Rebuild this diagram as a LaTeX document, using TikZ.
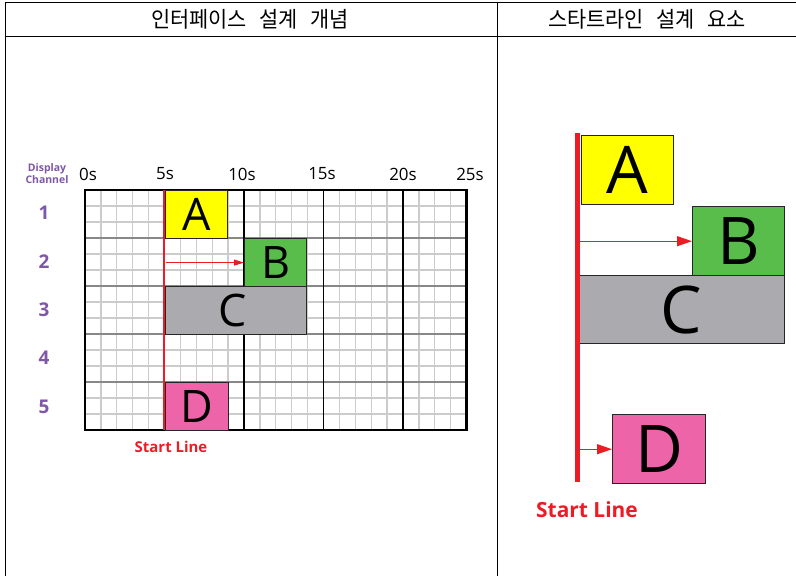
\documentclass[tikz,border=0pt]{standalone}
\usepackage{fontspec}
\setmainfont{Open Sans}
\newfontfamily\krfont{Noto Sans CJK KR}
\usetikzlibrary{arrows.meta}
\definecolor{redline}{HTML}{ED1C24}
\definecolor{boxA}{HTML}{FFFF00}
\definecolor{boxB}{HTML}{58BD4B}
\definecolor{boxC}{HTML}{ABABAF}
\definecolor{boxD}{HTML}{EE64A9}
\definecolor{purp}{HTML}{7E57A6}
\definecolor{minorgrid}{HTML}{CCCCCC}
\definecolor{chline}{HTML}{888888}
\begin{document}
\begin{tikzpicture}[x=1bp,y=-1bp,
  tableline/.style={line width=0.9bp,black},
  hdr/.style={font=\krfont\fontsize{22}{22}\selectfont,inner sep=0,xscale=0.95},
  axislbl/.style={font=\fontsize{17}{17}\selectfont,inner sep=0},
  chlbl/.style={font=\bfseries\fontsize{19}{19}\selectfont,text=purp,inner sep=0},
  smallbox/.style={draw=black!85,line width=1.2bp,inner sep=0,anchor=north west,
     minimum height=48bp,font=\fontsize{45}{45}\selectfont},
  bigbox/.style={draw=black!85,line width=1.4bp,inner sep=0,anchor=north west,
     font=\fontsize{66}{66}\selectfont},
  startlbl/.style={text=redline,font=\bfseries\fontsize{15}{15}\selectfont,inner sep=0},
  smallarrow/.style={redline,line width=0.9bp,-{Triangle[length=10bp,width=6bp]}},
  bigarrow/.style={redline,line width=1.2bp,-{Triangle[length=15bp,width=10bp]}}
]
\useasboundingbox (0,0) rectangle (796,576);
% table frame
\draw[tableline] (5,2) -- (796,2);
\draw[tableline] (5,36) -- (796,36);
\draw[tableline] (5,2) -- (5,576);
\draw[tableline] (497,2) -- (497,576);
\node[hdr,transform shape] (h1) at (250,19) {인터페이스\hspace{0.6em}설계\hspace{0.6em}개념};
\node[hdr,transform shape] (h2) at (647,19) {스타트라인\hspace{0.6em}설계\hspace{0.6em}요소};

% ---------- left panel: grid ----------
\foreach \i in {0,...,24} \draw[minorgrid,line width=1.3bp] ({85+\i*15.9},190) -- ({85+\i*15.9},430);
\foreach \j in {0,...,15} \draw[minorgrid,line width=1.3bp] (85,{190+\j*16}) -- (466.6,{190+\j*16});
\foreach \j in {1,...,4} \draw[chline,line width=2.2bp] (85,{190+\j*48}) -- (466.6,{190+\j*48});
\foreach \i in {1,...,4} \draw[black,line width=1.1bp] ({85+\i*79.5},190) -- ({85+\i*79.5},430);
\draw[black,line width=2.6bp] (85,190) rectangle (466.6,430);

% axis labels
\node[axislbl] (t0) at (88,174) {0s};
\node[axislbl] (t5) at (165,174) {5s};
\node[axislbl] (t10) at (242,174) {10s};
\node[axislbl] (t15) at (322,174) {15s};
\node[axislbl] (t20) at (403,174) {20s};
\node[axislbl] (t25) at (470,174) {25s};
\node[text=purp,font=\bfseries\fontsize{10.5}{12}\selectfont,align=center,inner sep=0] (dc) at (47,174) {Display\\Channel};
\node[chlbl] (c1) at (44,213) {1};
\node[chlbl] (c2) at (44,262) {2};
\node[chlbl] (c3) at (44,310) {3};
\node[chlbl] (c4) at (44,358) {4};
\node[chlbl] (c5) at (44,407) {5};

% boxes
\node[smallbox,fill=boxA,minimum width=62bp] (A) at (165,190) {A};
\node[smallbox,fill=boxB,minimum width=62bp] (B) at (244,238) {B};
\node[smallbox,fill=boxC,minimum width=141bp] (C) at (165,286) {\hspace*{-6bp}C};
\node[smallbox,fill=boxD,minimum width=63bp] (D) at (165,382) {D};

% start line
\coordinate (sl1) at (163.8,190);
\coordinate (sl2) at (163.8,430);
\draw[redline,line width=2.6bp] (sl1) -- (sl2);
\draw[smallarrow,shorten <=2bp] (sl1 |- B.west) -- (B.west);
\node[startlbl] (st1) at (171,447) {Start Line};

% ---------- right panel ----------
\node[bigbox,fill=boxA,minimum width=92bp,minimum height=69bp] (RA) at (581,135) {A};
\node[bigbox,fill=boxB,minimum width=92bp,minimum height=69bp] (RB) at (692,206) {B};
\node[bigbox,fill=boxC,minimum width=206bp,minimum height=68bp] (RC) at (578,275) {C};
\node[bigbox,fill=boxD,minimum width=93bp,minimum height=69bp] (RD) at (612,414) {D};
\coordinate (rs1) at (577,133);
\coordinate (rs2) at (577,482);
\draw[redline,line width=5bp] (rs1) -- (rs2);
\draw[bigarrow,shorten <=2.5bp] (rs1 |- RB.west) -- (RB.west);
\draw[bigarrow,shorten <=2.5bp] (rs1 |- RD.west) -- (RD.west);
\node[startlbl,font=\bfseries\fontsize{21}{21}\selectfont] (st2) at (587,510) {Start Line};
\end{tikzpicture}
\end{document}
